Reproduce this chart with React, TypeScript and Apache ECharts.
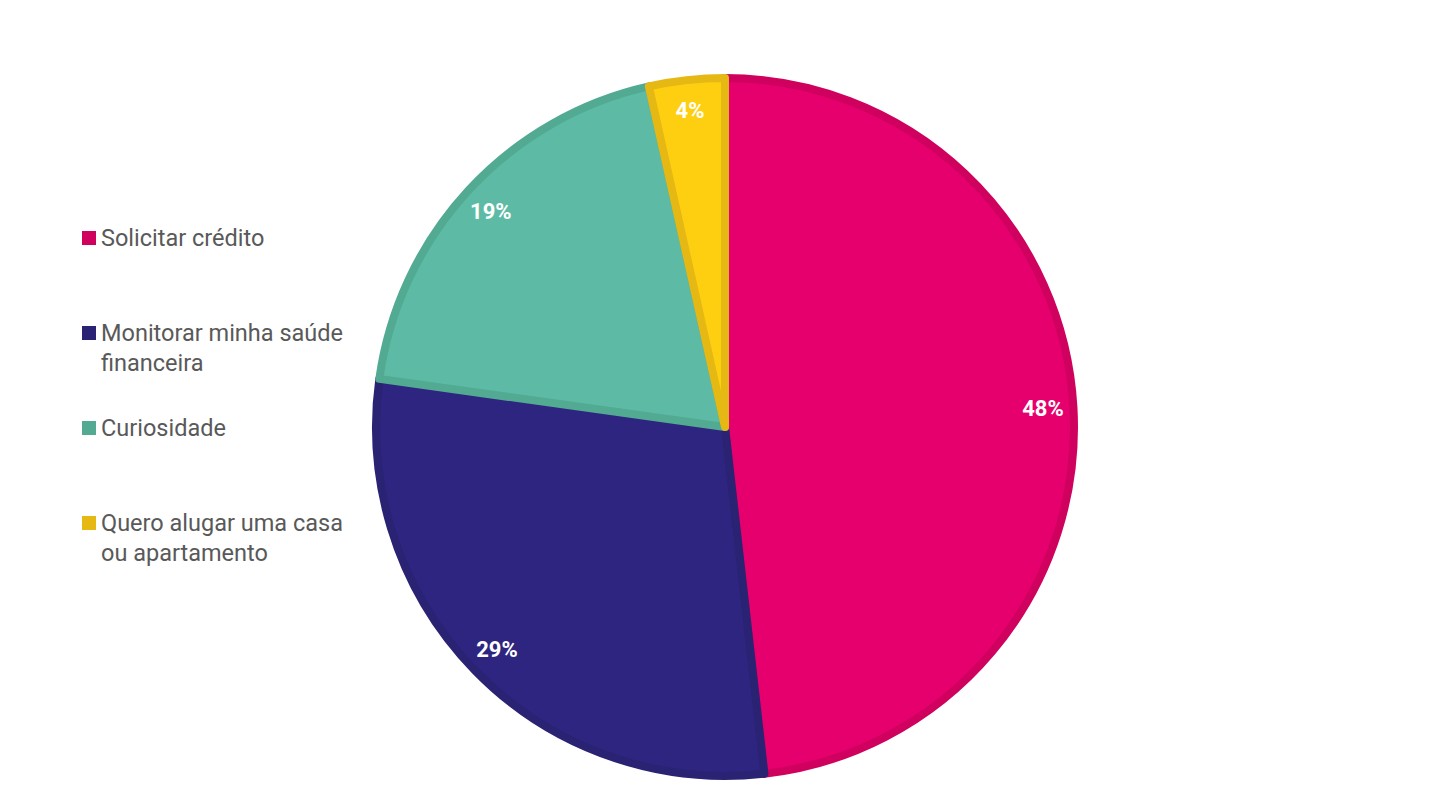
import React, { useEffect, useRef } from "react";
import * as echarts from "echarts";

const categories = [
  "Solicitar crédito",
  "Monitorar minha saúde financeira",
  "Curiosidade",
  "Quero alugar uma casa ou apartamento",
];
const legendLines = [
  ["Solicitar crédito", ""],
  ["Monitorar minha saúde", "financeira"],
  ["Curiosidade", ""],
  ["Quero alugar uma casa", "ou apartamento"],
];
const values = [48.2, 29.0, 19.3, 3.5];
const fillColors = ["#E5006D", "#2E2580", "#5DBBA5", "#FECF11"];
const borderColors = ["#D0005F", "#2A2272", "#52AA93", "#E6B814"];

export default function App() {
  const ref = useRef<HTMLDivElement>(null);
  useEffect(() => {
    if (!ref.current) return;
    const chart = echarts.init(ref.current, null, { renderer: "svg" });
    const data = categories.map((name, i) => ({
      name,
      value: values[i],
      itemStyle: { color: fillColors[i], borderColor: borderColors[i] },
    }));
    chart.setOption({
      animation: false,
      backgroundColor: "#ffffff",
      legend: {
        orient: "vertical",
        left: 82,
        top: 193,
        padding: 0,
        icon: "rect",
        itemWidth: 14,
        itemHeight: 14,
        itemGap: 5,
        selectedMode: false,
        data: categories.map((name, i) => ({
          name,
          itemStyle: { color: borderColors[i], borderWidth: 0 },
        })),
        formatter: (name: string) => {
          const i = categories.indexOf(name);
          return "\n" + legendLines[i][0] + "\n" + legendLines[i][1];
        },
        textStyle: {
          fontFamily: "Roboto",
          fontSize: 23.5,
          lineHeight: 30,
          color: "#595959",
        },
      },
      series: [
        {
          type: "pie",
          center: [725, 427],
          radius: [0, 349],
          startAngle: 90,
          clockwise: true,
          silent: true,
          label: { show: false },
          labelLine: { show: false },
          itemStyle: { borderWidth: 8 },
          data,
        },
        {
          type: "pie",
          center: [725, 427],
          radius: [278, 353],
          startAngle: 90,
          clockwise: true,
          silent: true,
          legendHoverLink: false,
          itemStyle: { color: "rgba(0,0,0,0)", borderWidth: 0 },
          label: {
            show: true,
            position: "inside",
            formatter: (p: any) => Math.round(p.value) + "%",
            color: "#ffffff",
            fontFamily: "Roboto",
            fontWeight: "bold",
            fontSize: 22,
          },
          labelLine: { show: false },
          data: categories.map((name, i) => ({ name: name + " ", value: values[i] })),
        },
      ],
    });
    return () => chart.dispose();
  }, []);
  return (
    <div
      ref={ref}
      style={{ position: "absolute", left: 0, top: 0, width: 1452, height: 804 }}
    />
  );
}
